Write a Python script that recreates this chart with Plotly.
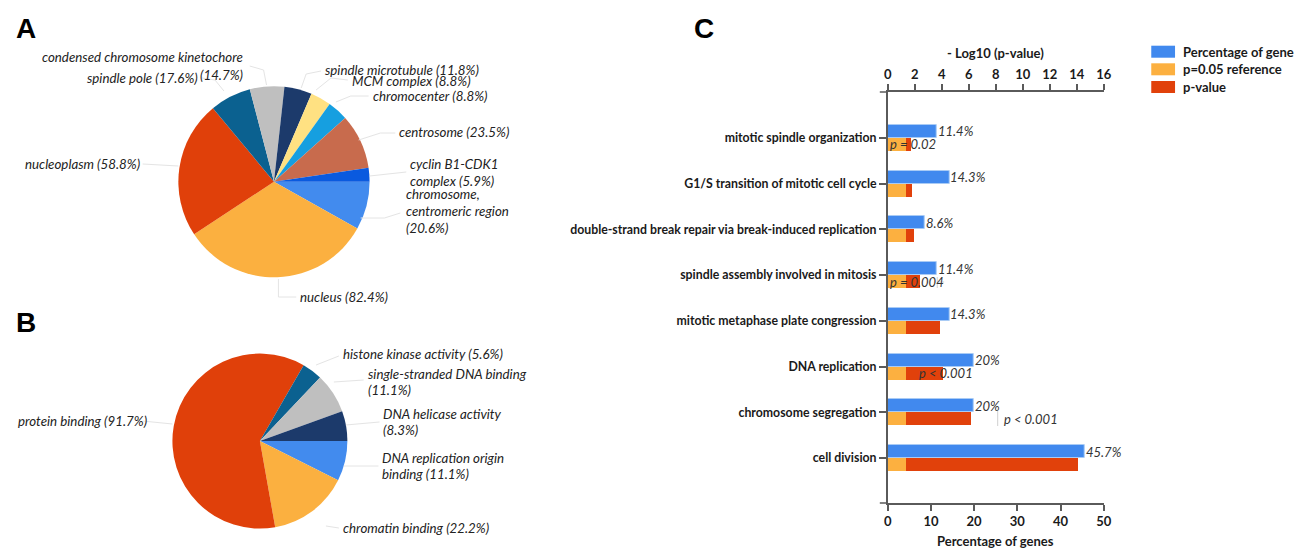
import plotly.graph_objects as go

W, H = 1294, 548

# ---------------- data ----------------
cc_terms = ["chromosome, centromeric region", "nucleus", "nucleoplasm", "spindle pole",
            "condensed chromosome kinetochore", "spindle microtubule", "MCM complex",
            "chromocenter", "centrosome", "cyclin B1-CDK1 complex"]
cc_pct = [20.6, 82.4, 58.8, 17.6, 14.7, 11.8, 8.8, 8.8, 23.5, 5.9]
cc_colors = ["#428BEE", "#FBB040", "#E0400A", "#0B6190", "#BFBFBF", "#1C3A6B",
             "#FFE182", "#169FE0", "#C86B4D", "#0A5ADF"]

mf_terms = ["DNA replication origin binding", "chromatin binding", "protein binding",
            "histone kinase activity", "single-stranded DNA binding", "DNA helicase activity"]
mf_pct = [11.1, 22.2, 91.7, 5.6, 11.1, 8.3]
mf_colors = ["#428BEE", "#FBB040", "#E0400A", "#0B6190", "#BFBFBF", "#1C3A6B"]

bp_terms = ["mitotic spindle organization", "G1/S transition of mitotic cell cycle",
            "double-strand break repair via break-induced replication",
            "spindle assembly involved in mitosis", "mitotic metaphase plate congression",
            "DNA replication", "chromosome segregation", "cell division"]
bp_pct = [11.4, 14.3, 8.6, 11.4, 14.3, 20, 20, 45.7]
bp_pct_labels = ["11.4%", "14.3%", "8.6%", "11.4%", "14.3%", "20%", "20%", "45.7%"]
bp_neglogp = [1.70, 1.77, 1.93, 2.40, 3.86, 4.06, 6.15, 14.04]
bp_ref = [1.30, 1.30, 1.30, 1.30, 1.30, 1.30, 1.30, 1.30]
p_texts = ["p = 0.02", "p = 0.017", "p = 0.004", "p < 0.001", "p < 0.001"]
p_rows = [0, 1, 3, 5, 6]
p_x = [0.05, -0.17, 0.0, 2.2, 8.5]

x_top_ticks = [0, 2, 4, 6, 8, 10, 12, 14, 16]
x_bot_ticks = [0, 10, 20, 30, 40, 50]

BLUE, ORANGE, RED = "#4189EE", "#FCB040", "#E1410B"


def px(x):
    return x / W


def py(y):
    return 1 - y / H


fig = go.Figure()

# ---------------- pies ----------------
fig.add_trace(go.Pie(labels=cc_terms, values=cc_pct, sort=False, direction="clockwise",
                     rotation=90, marker=dict(colors=cc_colors, line=dict(width=0)),
                     textinfo="none", hoverinfo="label+value", showlegend=False,
                     domain=dict(x=[px(176), px(369)], y=[py(278.3), py(85.2)])))
fig.add_trace(go.Pie(labels=mf_terms, values=mf_pct, sort=False, direction="clockwise",
                     rotation=90, marker=dict(colors=mf_colors, line=dict(width=0)),
                     textinfo="none", hoverinfo="label+value", showlegend=False,
                     domain=dict(x=[px(170), px(346.6)], y=[py(529.8), py(352.4)])))

# ---------------- bars ----------------
bw = 0.284
fig.add_trace(go.Bar(y=bp_terms, x=bp_pct, orientation="h", xaxis="x", yaxis="y",
                     marker=dict(color=BLUE, line=dict(width=1, color="#A9CBF5")),
                     width=bw, offset=-bw, name="Percentage of genes", showlegend=False))
fig.add_trace(go.Bar(y=bp_terms, x=bp_neglogp, orientation="h", xaxis="x2", yaxis="y",
                     marker=dict(color=RED, line=dict(width=0)), width=bw, offset=0,
                     name="p-value", showlegend=False))
fig.add_trace(go.Bar(y=bp_terms, x=bp_ref, orientation="h", xaxis="x2", yaxis="y",
                     marker=dict(color=ORANGE, line=dict(width=0)), width=bw, offset=0,
                     name="p=0.05 reference", showlegend=False))

AX = "#5a5a5a"
tickfont = dict(family="Lato", size=13, color="#1a1a1a", weight="bold")
ytickfont = dict(family="Lato", size=12.3, color="#1a1a1a", weight="bold")
xdom = [px(892), px(1110)]
ydom = [py(503), py(92)]

annotations = []
shapes = []

# panel letters
for letter, x, y in [("A", 10, 28), ("B", 10, 322), ("C", 694, 28)]:
    annotations.append(dict(text=letter, x=px(x), y=py(y), xref="paper", yref="paper",
                            xanchor="left", yanchor="middle", showarrow=False,
                            font=dict(family="Liberation Sans", size=28, color="#000", weight="bold")))

lab_font = dict(family="Lato", size=13.3, color="#222", style="italic")


def lab(text, x, y, anchor="left"):
    annotations.append(dict(text=text, x=px(x), y=py(y), xref="paper", yref="paper",
                            xanchor=anchor, yanchor="middle", showarrow=False, align=anchor,
                            font=lab_font))


# pie A labels
lab("condensed chromosome kinetochore", 243, 57, "right")
lab("(14.7%)", 243, 75, "right")
lab("spindle pole (17.6%)", 198, 78, "right")
lab("spindle microtubule (11.8%)", 322, 70)
lab("MCM complex (8.8%)", 349, 81)
lab("chromocenter (8.8%)", 370, 96)
lab("centrosome (23.5%)", 397, 132)
lab("cyclin B1-CDK1", 408, 164)
lab("complex (5.9%)", 408, 181)
lab("chromosome,", 404, 194)
lab("centromeric region", 404, 211)
lab("(20.6%)", 404, 228)
lab("nucleoplasm (58.8%)", 19, 164)
lab("nucleus (82.4%)", 297, 297)

# pie B labels
lab("histone kinase activity (5.6%)", 340, 354)
lab("single-stranded DNA binding", 365, 374)
lab("(11.1%)", 365, 390)
lab("DNA helicase activity", 381, 414)
lab("(8.3%)", 381, 430)
lab("DNA replication origin", 380, 458)
lab("binding (11.1%)", 380, 474)
lab("chromatin binding (22.2%)", 340, 528)
lab("protein binding (91.7%)", 12, 421)

# faint leader lines
LC = "#e4e4e4"
leaders = [
    [(140, 164), (176, 166)],
    [(277, 279), (277, 297), (295, 297)],
    [(360, 218), (384, 218), (400, 213)],
    [(369, 176), (406, 172)],
    [(358, 140), (380, 133), (395, 133)],
    [(335, 102), (350, 96), (368, 96)],
    [(315, 90), (330, 78), (347, 80)],
    [(300, 88), (305, 74), (320, 71)],
    [(265, 85), (262, 70), (248, 66)],
    [(222, 91), (213, 80), (200, 78)],
    [(140, 421), (170, 424)],
    [(325, 526), (338, 528)],
    [(343, 466), (378, 466)],
    [(345, 425), (379, 422)],
    [(333, 382), (363, 380)],
    [(315, 365), (338, 356)],
]
for pts in leaders:
    path = "M " + " L ".join(f"{px(a)},{py(b)}" for a, b in pts)
    shapes.append(dict(type="path", path=path, xref="paper", yref="paper",
                       line=dict(color=LC, width=1)))

# bar value labels
val_font = dict(family="Lato", size=13, color="#333", style="italic")
for i in range(len(bp_terms)):
    annotations.append(dict(text=bp_pct_labels[i], x=bp_pct[i], y=i - bw / 2, xref="x", yref="y",
                            xanchor="left", yanchor="middle", showarrow=False, xshift=-1,
                            font=val_font))
for t, r, xx in zip(p_texts, p_rows, p_x):
    annotations.append(dict(text=t, x=xx, y=r + bw / 2, xref="x2", yref="y",
                            xanchor="left", yanchor="middle", showarrow=False,
                            font=val_font))

# small connector marks
shapes.append(dict(type="line", xref="paper", yref="paper", x0=px(942), x1=px(942),
                   y0=py(277), y1=py(288), line=dict(color="#cfcfcf", width=1)))
shapes.append(dict(type="line", xref="paper", yref="paper", x0=px(944), x1=px(949),
                   y0=py(282), y1=py(282), line=dict(color="#cfcfcf", width=1)))
shapes.append(dict(type="line", xref="paper", yref="paper", x0=px(1003), x1=px(1003),
                   y0=py(411), y1=py(426), line=dict(color="#cfcfcf", width=1)))

# axis overhangs (Prism-style)
for y in (92, 503):
    shapes.append(dict(type="line", xref="paper", yref="paper", x0=px(884), x1=px(892),
                       y0=py(y), y1=py(y), line=dict(color=AX, width=1.5)))
shapes.append(dict(type="line", xref="paper", yref="paper", x0=px(892), x1=px(892),
                   y0=py(503), y1=py(510), line=dict(color=AX, width=1.5)))

# axis titles
title_font = dict(family="Lato", size=13, color="#1a1a1a", weight="bold")
annotations.append(dict(text="- Log10 (p-value)", x=px(1001), y=py(53), xref="paper", yref="paper",
                        showarrow=False, xanchor="center", yanchor="middle", font=title_font))
annotations.append(dict(text="Percentage of genes", x=px(1001), y=py(541), xref="paper", yref="paper",
                        showarrow=False, xanchor="center", yanchor="middle", font=title_font))

# manual legend
leg = [("Percentage of gene", BLUE, 51.7), ("p=0.05 reference", ORANGE, 69.3), ("p-value", RED, 87)]
for name, col, yc in leg:
    shapes.append(dict(type="rect", xref="paper", yref="paper", x0=px(1158), x1=px(1182),
                       y0=py(yc + 6), y1=py(yc - 6), fillcolor=col, line=dict(width=0)))
    annotations.append(dict(text=name, x=px(1188), y=py(yc), xref="paper", yref="paper",
                            showarrow=False, xanchor="left", yanchor="middle", font=title_font))

fig.update_layout(
    width=W, height=H, margin=dict(l=0, r=0, t=0, b=0),
    paper_bgcolor="white", plot_bgcolor="white",
    barmode="overlay", bargap=0,
    xaxis=dict(domain=xdom, range=[0, 50], tickvals=x_bot_ticks, showgrid=False, zeroline=False,
               showline=True, linecolor=AX, linewidth=1.5, ticks="outside", ticklen=6,
               tickwidth=1.5, tickcolor=AX, tickfont=tickfont, anchor="y", fixedrange=True),
    xaxis2=dict(domain=xdom, range=[0, 16], tickvals=x_top_ticks, showgrid=False, zeroline=False,
                showline=True, linecolor=AX, linewidth=1.5, ticks="outside", ticklen=6,
                tickwidth=1.5, tickcolor=AX, tickfont=tickfont, overlaying="x", side="top",
                anchor="y", fixedrange=True),
    yaxis=dict(domain=ydom, type="category", range=[7.98, -1.0], showgrid=False, zeroline=False,
               showline=True, linecolor=AX, linewidth=1.5, ticks="outside", ticklen=7,
               tickwidth=1.5, tickcolor=AX, tickfont=ytickfont, anchor="x", fixedrange=True),
    annotations=annotations, shapes=shapes,
)

fig.write_html("out.html", config={"displayModeBar": False},
               post_script="document.body.style.margin='0';document.body.style.overflow='hidden';")
